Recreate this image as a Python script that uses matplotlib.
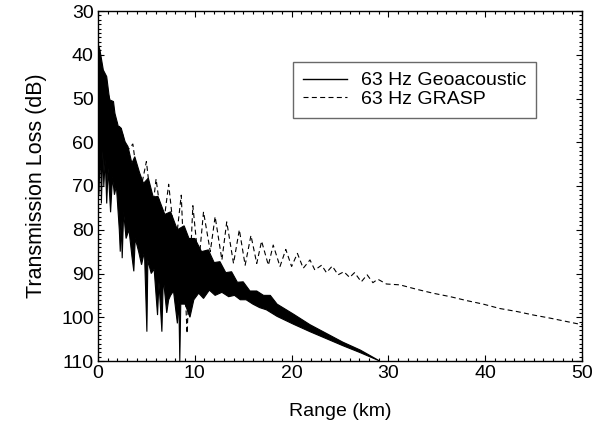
import numpy as np
import matplotlib
matplotlib.use('Agg')
from matplotlib import pyplot as plt
from matplotlib.ticker import MultipleLocator


# 63 Hz geoacoustic model: upper edge of the dense black band (range km, TL dB)
GEO_TOP_R = [0.0, 0.2, 0.55, 0.9, 1.2, 1.6, 1.75, 2.1, 2.4, 2.8, 3.1, 3.5, 3.8,
             4.3, 4.7, 5.2, 5.7, 6.2, 6.9, 7.5, 8.2, 8.9, 9.4, 10.0, 10.7, 11.4,
             12.0, 12.6, 13.2, 13.8, 14.4, 15.0, 15.7, 16.4, 17.1, 17.8, 18.5,
             20.2, 21.9, 23.6, 25.3, 27.1, 29.1]
GEO_TOP_TL = [37.5, 38.9, 43.5, 45.0, 50.3, 50.7, 53.4, 56.4, 56.8, 59.9, 61.0,
              64.8, 63.3, 67.0, 69.4, 68.2, 72.5, 72.4, 76.5, 75.9, 80.0, 79.1,
              82.0, 82.0, 85.0, 84.6, 87.5, 87.3, 89.8, 89.6, 92.0, 91.9, 94.0,
              94.0, 95.0, 95.0, 97.0, 99.3, 101.7, 103.7, 105.7, 107.5, 110.0]

# lower edge of the band, including the deep interference nulls
GEO_BOT_R = [0.0, 0.1, 0.25, 0.35, 0.5, 0.6, 0.75, 0.9, 1.05, 1.3, 1.5, 1.7,
             1.9, 2.2, 2.3, 2.4, 2.5, 2.65, 2.9, 3.2, 3.5, 3.7, 3.85, 4.2, 4.5,
             4.8, 5.05, 5.15, 5.5, 5.8, 6.15, 6.3, 6.6, 6.75, 7.1, 7.3, 7.5, 7.8,
             8.2, 8.35, 8.45, 8.55, 9.0, 9.5, 9.9, 10.4, 10.9, 11.5, 12.1, 12.8,
             13.5, 14.1, 14.7, 15.3, 16.0, 16.7, 17.4, 18.5, 20.2, 21.9, 23.6,
             25.3, 27.1, 29.1]
GEO_BOT_TL = [40.0, 72.0, 60.0, 74.0, 62.0, 70.0, 64.0, 74.0, 66.0, 76.0, 68.0,
              72.0, 70.0, 80.0, 85.0, 78.0, 86.5, 76.0, 82.0, 80.0, 86.0, 89.5,
              82.0, 85.0, 88.0, 85.0, 103.3, 87.0, 90.0, 89.0, 99.5, 92.0, 103.3,
              91.0, 99.0, 96.0, 95.0, 94.0, 101.4, 96.0, 110.0, 97.0, 97.0,
              100.0, 96.0, 94.5, 95.7, 93.8, 95.0, 94.3, 95.3, 95.0, 96.0, 96.0,
              97.0, 97.8, 98.3, 99.8, 101.6, 103.3, 104.9, 106.5, 108.1, 110.0]

# 63 Hz GRASP: alternating peaks and troughs (range km, TL dB)
GRASP_R = [0.0, 0.6, 1.2, 1.8, 2.4, 3.0, 3.6, 4.3, 5.0, 5.6, 6.0, 6.7, 7.3,
           8.0, 8.6, 9.2, 9.8, 10.4, 10.9, 11.6, 12.1, 12.8, 13.3, 14.0, 14.6,
           15.2, 15.8, 16.4, 16.9, 17.6, 18.1, 18.8, 19.4, 20.0, 20.6, 21.2,
           21.9, 22.4, 23.1, 23.6, 24.2, 24.8, 25.4, 26.0, 26.5, 27.2, 27.8,
           28.4, 28.9, 29.8, 31.2, 32.9, 34.6, 36.4, 38.1, 39.8, 41.5, 43.3,
           45.0, 46.7, 50.0]
GRASP_TL = [38.0, 46.0, 50.0, 55.0, 57.0, 62.0, 60.4, 72.0, 64.4, 76.0, 68.4,
            80.0, 69.6, 84.0, 72.1, 103.7, 74.5, 88.0, 75.9, 85.0, 77.0, 86.9,
            78.2, 87.7, 80.0, 88.1, 81.3, 87.7, 82.6, 88.1, 83.5, 88.4, 84.5,
            88.4, 85.4, 88.8, 86.9, 89.2, 88.1, 89.8, 88.3, 90.3, 89.6, 90.9,
            89.8, 91.9, 90.3, 92.1, 91.3, 92.4, 92.6, 93.6, 94.5, 95.3, 96.2,
            97.0, 98.0, 98.7, 99.5, 100.2, 101.7]

X_TICKS = [0, 10, 20, 30, 40, 50]
Y_TICKS = [30, 40, 50, 60, 70, 80, 90, 100, 110]

FONT = ['Liberation Sans', 'DejaVu Sans']


def main():
    plt.rcParams['font.family'] = FONT
    fig = plt.figure(figsize=(6.05, 4.37), dpi=100)
    ax = fig.add_axes([98 / 605, 1 - 361 / 437, 484 / 605, 350 / 437])

    # dense band of the geoacoustic result, drawn as one closed outline
    band_r = np.r_[GEO_TOP_R, GEO_BOT_R[::-1]]
    band_tl = np.r_[GEO_TOP_TL, GEO_BOT_TL[::-1]]
    ax.fill(band_r, band_tl, color='black', lw=0.8, ec='black')
    ax.plot([], [], color='black', lw=1.0, label='63 Hz Geoacoustic')

    ax.plot(GRASP_R, GRASP_TL, color='black', lw=0.8, dashes=(4.5, 3),
            label='63 Hz GRASP')

    ax.set_xlim(0, 50)
    ax.set_ylim(110, 30)
    ax.set_xticks(X_TICKS)
    ax.set_yticks(Y_TICKS)
    ax.xaxis.set_minor_locator(MultipleLocator(1))
    ax.yaxis.set_minor_locator(MultipleLocator(1))
    ax.tick_params(which='both', direction='in', top=True, right=True,
                   labelsize=14, width=0.8)
    ax.tick_params(which='major', length=4.5, pad=3)
    ax.tick_params(which='minor', length=2.2)
    for sp in ax.spines.values():
        sp.set_linewidth(1.0)

    ax.set_xlabel('Range (km)', fontsize=14, labelpad=15)
    ax.set_ylabel('Transmission Loss (dB)', fontsize=15.5, labelpad=10)

    leg = ax.legend(loc='upper left', bbox_to_anchor=(293 / 605, 1 - 62 / 437),
                    bbox_transform=fig.transFigure, fontsize=14,
                    fancybox=False, frameon=True, handlelength=2.3,
                    handletextpad=0.7, borderpad=0.5, labelspacing=0.05,
                    borderaxespad=0)
    leg.get_frame().set_edgecolor('#444444')
    leg.get_frame().set_linewidth(1.0)

    fig.savefig('out.png', dpi=100)


if __name__ == '__main__':
    main()
